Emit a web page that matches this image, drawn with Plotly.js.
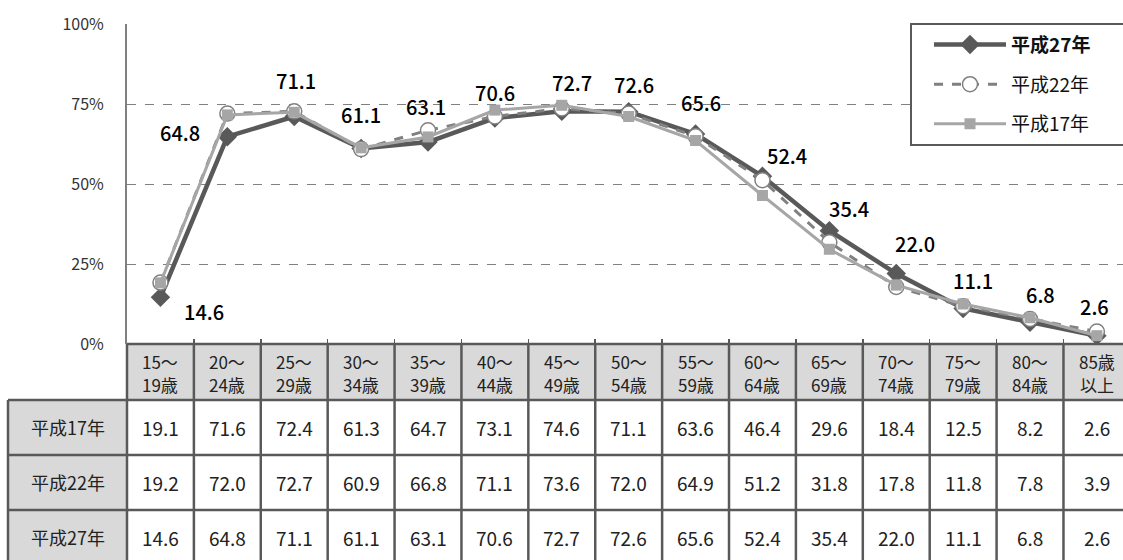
<!DOCTYPE html>
<html>
<head>
<meta charset="utf-8">
<script src="https://cdn.plot.ly/plotly-3.0.1.min.js"></script>
<style>html,body{margin:0;padding:0;background:#fff;}#chart{width:1123px;height:560px;}</style>
</head>
<body>
<div id="chart"></div>
<script>
const categories = ['15～19歳','20～24歳','25～29歳','30～34歳','35～39歳','40～44歳','45～49歳','50～54歳','55～59歳','60～64歳','65～69歳','70～74歳','75～79歳','80～84歳','85歳以上'];
const seriesNames = ['平成17年','平成22年','平成27年'];
const h17 = [19.1,71.6,72.4,61.3,64.7,73.1,74.6,71.1,63.6,46.4,29.6,18.4,12.5,8.2,2.6];
const h22 = [19.2,72.0,72.7,60.9,66.8,71.1,73.6,72.0,64.9,51.2,31.8,17.8,11.8,7.8,3.9];
const h27 = [14.6,64.8,71.1,61.1,63.1,70.6,72.7,72.6,65.6,52.4,35.4,22.0,11.1,6.8,2.6];
const yTicks = [0,25,50,75,100];

// style: pixel offsets of the data labels of the 平成27年 series
const labelShift = [[44,-14],[-47,4],[2,36],[0,34],[-2,36],[0,26],[10,29],[5,27],[5,32],[25,21],[20,22],[19,30],[10,28],[10,28],[-2,29]];

const FONT = '"Noto Sans CJK JP", "Noto Sans", sans-serif';
const DARK = '#595959';
const fmt = v => v.toFixed(1);

const traces = [
  {x: categories, y: h27, name: '<b>' + seriesNames[2] + '</b>', type: 'scatter', mode: 'lines+markers',
   legendgroup: 'a', line: {color: DARK, width: 4.5},
   marker: {symbol: 'diamond', size: 15, color: DARK}},
  {x: categories, y: h22, name: seriesNames[1], type: 'scatter', mode: 'lines+markers',
   legendgroup: 'b', line: {color: '#808080', width: 3, dash: 'dash'},
   marker: {symbol: 'circle', size: 15, color: '#ffffff', line: {color: '#808080', width: 1.5}}},
  {x: categories, y: h17, name: seriesNames[0], type: 'scatter', mode: 'lines+markers',
   legendgroup: 'c', line: {color: '#a6a6a6', width: 3},
   marker: {symbol: 'square', size: 11, color: '#a6a6a6'}}
];

const PLOT_H = 320;               // px height of plot area
const py = px => -px / PLOT_H;    // px below x axis -> paper y
const LEFT = -119 / 996;          // paper x of the table's left border

const headerBottom = py(56), row1 = py(111), row2 = py(166), tableBottom = py(230);

const shapes = [
  {type: 'rect', xref: 'paper', yref: 'paper', x0: 0, x1: 1, y0: 0, y1: headerBottom, fillcolor: '#d9d9d9', line: {width: 0}, layer: 'below'},
  {type: 'rect', xref: 'paper', yref: 'paper', x0: LEFT, x1: 0, y0: headerBottom, y1: tableBottom, fillcolor: '#d9d9d9', line: {width: 0}, layer: 'below'},
  {type: 'line', xref: 'paper', yref: 'paper', x0: 0, x1: 1, y0: 0, y1: 0, line: {color: DARK, width: 2.5}},
  {type: 'line', xref: 'paper', yref: 'paper', x0: LEFT, x1: 1, y0: headerBottom, y1: headerBottom, line: {color: DARK, width: 2.5}},
  {type: 'line', xref: 'paper', yref: 'paper', x0: LEFT, x1: 1, y0: row1, y1: row1, line: {color: DARK, width: 2.5}},
  {type: 'line', xref: 'paper', yref: 'paper', x0: LEFT, x1: 1, y0: row2, y1: row2, line: {color: DARK, width: 2.5}},
  {type: 'line', xref: 'paper', yref: 'paper', x0: LEFT, x1: LEFT, y0: headerBottom, y1: tableBottom, line: {color: DARK, width: 2.5}},
  {type: 'line', xref: 'paper', yref: 'paper', x0: 0, x1: 0, y0: 0, y1: tableBottom, line: {color: DARK, width: 2.5}}
];
for (let i = 1; i < categories.length; i++) {
  shapes.push({type: 'line', xref: 'x', yref: 'paper', x0: i - 0.5, x1: i - 0.5, y0: 0, y1: tableBottom, line: {color: DARK, width: 2.5}});
}
// legend box
shapes.push({type: 'rect', xref: 'paper', yref: 'paper', x0: 784 / 996, x1: 1.05, y0: 1, y1: 199 / PLOT_H, fillcolor: '#ffffff', line: {color: DARK, width: 2}, layer: 'above'});

const annotations = [];
h27.forEach((v, i) => {
  annotations.push({x: categories[i], y: v, xref: 'x', yref: 'y', text: fmt(v), showarrow: false,
    xanchor: 'center', yanchor: 'middle', xshift: labelShift[i][0], yshift: labelShift[i][1],
    font: {family: FONT, size: 20, color: '#000000', weight: 500}});
});
categories.forEach((c, i) => {
  annotations.push({x: c, y: py(17), xref: 'x', yref: 'paper', xanchor: 'center', yanchor: 'middle',
    text: c.slice(0, 3), showarrow: false, font: {family: FONT, size: 17, color: '#222222'}});
  annotations.push({x: c, y: py(40), xref: 'x', yref: 'paper', xanchor: 'center', yanchor: 'middle',
    text: c.slice(3), showarrow: false, font: {family: FONT, size: 17, color: '#222222'}});
});
const rows = [[seriesNames[0], h17], [seriesNames[1], h22], [seriesNames[2], h27]];
const rowCenters = [py(83), py(138), py(193)];
rows.forEach((r, k) => {
  annotations.push({x: LEFT / 2, y: rowCenters[k], xref: 'paper', yref: 'paper', xanchor: 'center', yanchor: 'middle',
    text: r[0], showarrow: false, font: {family: FONT, size: 18, color: '#222222'}});
  r[1].forEach((v, i) => {
    annotations.push({x: categories[i], y: rowCenters[k], xref: 'x', yref: 'paper', xanchor: 'center', yanchor: 'middle',
      text: fmt(v), showarrow: false, font: {family: FONT, size: 19, color: '#222222'}});
  });
});

const layout = {
  width: 1123, height: 560,
  margin: {l: 127, r: 0, t: 24, b: 216, pad: 0},
  paper_bgcolor: '#ffffff', plot_bgcolor: '#ffffff',
  font: {family: FONT, color: '#333333'},
  showlegend: true,
  legend: {x: 802 / 996, y: 0.995, xanchor: 'left', yanchor: 'top', bgcolor: 'rgba(0,0,0,0)', borderwidth: 0,
    itemwidth: 72, tracegroupgap: 12, font: {family: FONT, size: 19, color: '#111111'}},
  xaxis: {type: 'category', categoryorder: 'array', categoryarray: categories, range: [-0.5, 14.39],
    showticklabels: false, ticks: 'inside', tickson: 'boundaries', ticklen: 5, tickcolor: DARK, tickwidth: 1.5,
    showline: false, showgrid: false, zeroline: false, fixedrange: true},
  yaxis: {range: [0, 100], tickvals: yTicks, ticktext: yTicks.map(t => t + '%'), showline: true, linecolor: '#808080', linewidth: 2,
    showgrid: true, gridcolor: '#808080', griddash: 'dash', gridwidth: 1, zeroline: false, ticks: '',
    ticklabelstandoff: 18, tickfont: {family: FONT, size: 16, color: '#333333'}, fixedrange: true},
  shapes: shapes,
  annotations: annotations
};

Plotly.newPlot('chart', traces, layout, {displayModeBar: false, staticPlot: true});
</script>
</body>
</html>
